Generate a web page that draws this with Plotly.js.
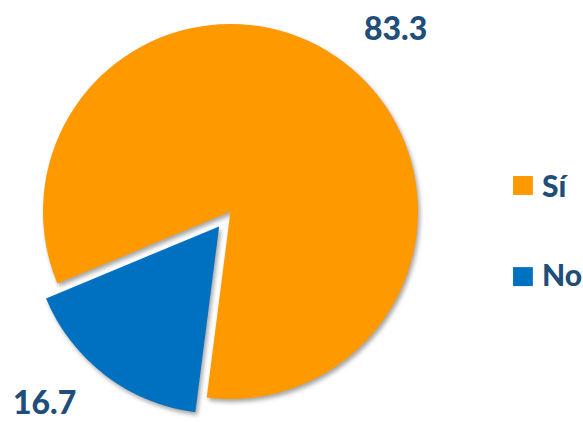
<!DOCTYPE html>
<html>
<head>
<meta charset="utf-8">
<script src="https://cdn.plot.ly/plotly-3.0.1.min.js"></script>
<style>
html,body{margin:0;padding:0;background:#fff;}
#chart{width:583px;height:422px;}
#chart .slice path.surface{filter:drop-shadow(2px 3px 2px rgba(0,0,0,0.35));}
</style>
</head>
<body>
<div id="chart"></div>
<script>
const categories = ['Sí', 'No'];
const values = [83.3, 16.7];
const colors = ['#FF9900', '#0070C0'];
const pulls = [0, 0.1];

const textColor = '#1F4E79';
const fontFam = 'Lato, "Open Sans", Arial, sans-serif';

const trace = {
  type: 'pie',
  labels: categories,
  values: values,
  sort: false,
  direction: 'clockwise',
  rotation: 247.4,
  pull: pulls,
  marker: {colors: colors, line: {width: 0}},
  textinfo: 'none',
  hoverinfo: 'label+value',
  showlegend: false,
  domain: {x: [0.0416, 0.7491], y: [0.0101, 0.9876]}
};

// value labels positions (layout)
const labelPos = [
  {x: 0.679, y: 0.936, ya: 'middle'},
  {x: 0.077, y: 0.0, ya: 'bottom'}
];
const legendSquares = [
  {x0: 0.880, x1: 0.914, y0: 0.538, y1: 0.583},
  {x0: 0.880, x1: 0.914, y0: 0.322, y1: 0.367}
];
const legendText = [
  {x: 0.926, y: 0.561},
  {x: 0.926, y: 0.350}
];

const annotations = [];
const shapes = [];
categories.forEach((c, i) => {
  annotations.push({
    xref: 'paper', yref: 'paper', x: labelPos[i].x, y: labelPos[i].y,
    text: values[i].toFixed(1), showarrow: false,
    xanchor: 'center', yanchor: labelPos[i].ya, borderpad: 0,
    font: {family: fontFam, size: 32, color: textColor, weight: 900}
  });
  shapes.push({
    type: 'rect', xref: 'paper', yref: 'paper',
    x0: legendSquares[i].x0, x1: legendSquares[i].x1,
    y0: legendSquares[i].y0, y1: legendSquares[i].y1,
    fillcolor: colors[i], line: {width: 0}
  });
  annotations.push({
    xref: 'paper', yref: 'paper', x: legendText[i].x, y: legendText[i].y,
    text: c, showarrow: false, xanchor: 'left', yanchor: 'middle',
    font: {family: fontFam, size: 30, color: textColor, weight: 900}
  });
});

const layout = {
  width: 583, height: 422,
  margin: {l: 0, r: 0, t: 0, b: 0},
  paper_bgcolor: '#ffffff',
  showlegend: false,
  annotations: annotations,
  shapes: shapes
};

Plotly.newPlot('chart', [trace], layout, {displayModeBar: false, staticPlot: true});
</script>
</body>
</html>
